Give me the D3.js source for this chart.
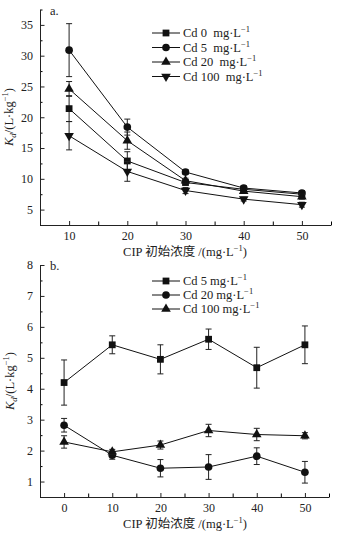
<!DOCTYPE html>
<html>
<head>
<meta charset="utf-8">
<script src="https://cdn.jsdelivr.net/npm/d3@7"></script>
<style>
  body { margin: 0; background: #fff; }
  text { font-family: 'Liberation Serif', 'Noto Sans CJK SC', serif; fill: #222; }
</style>
</head>
<body>
<div id="chart"></div>
<script>
// panel a: Kd vs CIP initial concentration, four Cd levels
const concA = [10, 20, 30, 40, 50];
const cd0A = [21.4, 12.9, 9.4, 8.3, 7.5];
const cd0AErr = [2.1, 1.5, 0.4, 0.4, 0.4];
const cd5A = [30.9, 18.4, 11.1, 8.5, 7.7];
const cd5AErr = [4.3, 1.3, 0.4, 0.4, 0.4];
const cd20A = [24.6, 16.2, 9.7, 8.0, 7.1];
const cd20AErr = [1.2, 1.4, 0.4, 0.3, 0.4];
const cd100A = [17.0, 11.2, 8.1, 6.7, 5.8];
const cd100AErr = [2.3, 1.6, 0.5, 0.3, 0.4];
const legendA = ['Cd 0\u00a0 mg\u00b7L', 'Cd 5\u00a0 mg\u00b7L', 'Cd 20\u00a0 mg\u00b7L', 'Cd 100\u00a0 mg\u00b7L'];
const xTicksA = [10, 20, 30, 40, 50];
const yTicksA = [5, 10, 15, 20, 25, 30, 35];

// panel b
const concB = [0, 10, 20, 30, 40, 50];
const cd5B = [4.2, 5.42, 4.95, 5.6, 4.68, 5.42];
const cd5BErr = [0.73, 0.29, 0.47, 0.33, 0.66, 0.61];
const cd20B = [2.82, 1.85, 1.43, 1.47, 1.82, 1.3];
const cd20BErr = [0.22, 0.13, 0.28, 0.4, 0.27, 0.35];
const cd100B = [2.28, 1.96, 2.18, 2.65, 2.52, 2.48];
const cd100BErr = [0.2, 0.08, 0.13, 0.2, 0.2, 0.1];
const legendB = ['Cd 5 mg\u00b7L', 'Cd 20 mg\u00b7L', 'Cd 100 mg\u00b7L'];
const xTicksB = [0, 10, 20, 30, 40, 50];
const yTicksB = [1, 2, 3, 4, 5, 6, 7, 8];

const W = 338, H = 542;

const svg = d3.select('#chart').append('svg')
  .attr('width', W).attr('height', H);

const shapes = {
  square: d3.symbol().type(d3.symbolSquare).size(46),
  circle: d3.symbol().type(d3.symbolCircle).size(46),
  up: d3.symbol().type(d3.symbolTriangle).size(40),
  down: d3.symbol().type(d3.symbolTriangle).size(40)
};

function marker(g, kind, x, y) {
  g.append('path')
    .attr('d', shapes[kind]())
    .attr('transform', `translate(${x},${y})` + (kind === 'down' ? ' rotate(180)' : ''))
    .attr('fill', '#111');
}

function drawPanel(opt) {
  const g = svg.append('g');
  const x = d3.scaleLinear().domain(opt.xDomain).range(opt.xRange);
  const y = d3.scaleLinear().domain(opt.yDomain).range(opt.yRange);

  // minor ticks
  g.append('g')
    .attr('transform', `translate(0,${opt.yRange[0]})`)
    .call(d3.axisBottom(x).tickValues(opt.xMinor).tickSize(-3.5).tickSizeOuter(0).tickFormat(''))
    .call(a => a.select('.domain').remove());
  g.append('g')
    .attr('transform', `translate(${opt.xRange[0]},0)`)
    .call(d3.axisLeft(y).tickValues(opt.yMinor).tickSize(-2.5).tickSizeOuter(0).tickFormat(''))
    .call(a => a.select('.domain').remove());

  // main axes
  const xa = g.append('g')
    .attr('transform', `translate(0,${opt.yRange[0]})`)
    .call(d3.axisBottom(x).tickValues(opt.xTicks).tickSize(-4).tickSizeOuter(0).tickPadding(6));
  const ya = g.append('g')
    .attr('transform', `translate(${opt.xRange[0]},0)`)
    .call(d3.axisLeft(y).tickValues(opt.yTicks).tickSize(-4.5).tickSizeOuter(0).tickPadding(7));
  [xa, ya].forEach(a => {
    a.selectAll('path,line').attr('stroke', '#222');
    a.selectAll('text').attr('font-size', 12).attr('font-family', "'Liberation Serif', serif");
  });

  // series
  opt.series.forEach(s => {
    const pts = opt.conc.map((c, i) => ({ c: c, v: s.values[i], e: s.err[i] }));
    g.append('path')
      .datum(pts)
      .attr('fill', 'none')
      .attr('stroke', '#111')
      .attr('stroke-width', 1)
      .attr('d', d3.line().x(d => x(d.c)).y(d => y(d.v)));
    pts.forEach(d => {
      const cx = x(d.c);
      const eb = g.append('g').attr('stroke', '#222').attr('stroke-width', 1);
      eb.append('line').attr('x1', cx).attr('x2', cx).attr('y1', y(d.v - d.e)).attr('y2', y(d.v + d.e));
      eb.append('line').attr('x1', cx - 3).attr('x2', cx + 3).attr('y1', y(d.v - d.e)).attr('y2', y(d.v - d.e));
      eb.append('line').attr('x1', cx - 3).attr('x2', cx + 3).attr('y1', y(d.v + d.e)).attr('y2', y(d.v + d.e));
      marker(g, s.shape, cx, y(d.v));
    });
  });

  // legend
  opt.series.forEach((s, i) => {
    const ly = opt.legendY + i * opt.legendStep;
    g.append('line')
      .attr('x1', 152).attr('x2', 180).attr('y1', ly).attr('y2', ly)
      .attr('stroke', '#111');
    marker(g, s.shape, 166, ly);
    const t = g.append('text')
      .attr('x', 183).attr('y', ly + 4)
      .attr('font-size', 12.5)
      .text(s.label);
    t.append('tspan').attr('dy', -5).attr('font-size', 8.5).text('\u22121');
  });

  // panel letter
  g.append('text')
    .attr('x', opt.xRange[0] + 10).attr('y', opt.yRange[1] + 5)
    .attr('font-size', 12.5).text(opt.letter);

  // axis titles
  const xt = g.append('text')
    .attr('x', 185).attr('y', opt.yRange[0] + 31)
    .attr('text-anchor', 'middle').attr('font-size', 12.5)
    .text('CIP 初始浓度 /(mg\u00b7L');
  xt.append('tspan').attr('dy', -5).attr('font-size', 8.5).text('\u22121');
  xt.append('tspan').attr('dy', 5).text(')');

  const yt = g.append('text')
    .attr('transform', `translate(${opt.yTitleX},${opt.yTitleY}) rotate(-90)`)
    .attr('text-anchor', 'middle').attr('font-size', 12.5);
  yt.append('tspan').attr('font-style', 'italic').text('K');
  yt.append('tspan').attr('font-style', 'italic').attr('font-size', 9).attr('dy', 3).text('d');
  yt.append('tspan').attr('dy', -3).text('/(L\u00b7kg');
  yt.append('tspan').attr('dy', -5).attr('font-size', 8.5).text('\u22121');
  yt.append('tspan').attr('dy', 5).text(')');
}

drawPanel({
  letter: 'a.',
  conc: concA,
  xDomain: [5, 55], xRange: [40, 331],
  yDomain: [2.5, 37.5], yRange: [225, 9.5],
  xTicks: xTicksA, yTicks: yTicksA,
  xMinor: d3.range(5, 56, 10), yMinor: d3.range(2.5, 38, 5),
  legendY: 33, legendStep: 14.5,
  yTitleX: 13, yTitleY: 117,
  series: [
    { label: legendA[0], values: cd0A, err: cd0AErr, shape: 'square' },
    { label: legendA[1], values: cd5A, err: cd5AErr, shape: 'circle' },
    { label: legendA[2], values: cd20A, err: cd20AErr, shape: 'up' },
    { label: legendA[3], values: cd100A, err: cd100AErr, shape: 'down' }
  ]
});

drawPanel({
  letter: 'b.',
  conc: concB,
  xDomain: [-5, 55], xRange: [40, 329],
  yDomain: [0.5, 8], yRange: [497, 265],
  xTicks: xTicksB, yTicks: yTicksB,
  xMinor: d3.range(-5, 56, 10), yMinor: d3.range(0.5, 8, 1),
  legendY: 281, legendStep: 14,
  yTitleX: 14, yTitleY: 381,
  series: [
    { label: legendB[0], values: cd5B, err: cd5BErr, shape: 'square' },
    { label: legendB[1], values: cd20B, err: cd20BErr, shape: 'circle' },
    { label: legendB[2], values: cd100B, err: cd100BErr, shape: 'up' }
  ]
});
</script>
</body>
</html>
